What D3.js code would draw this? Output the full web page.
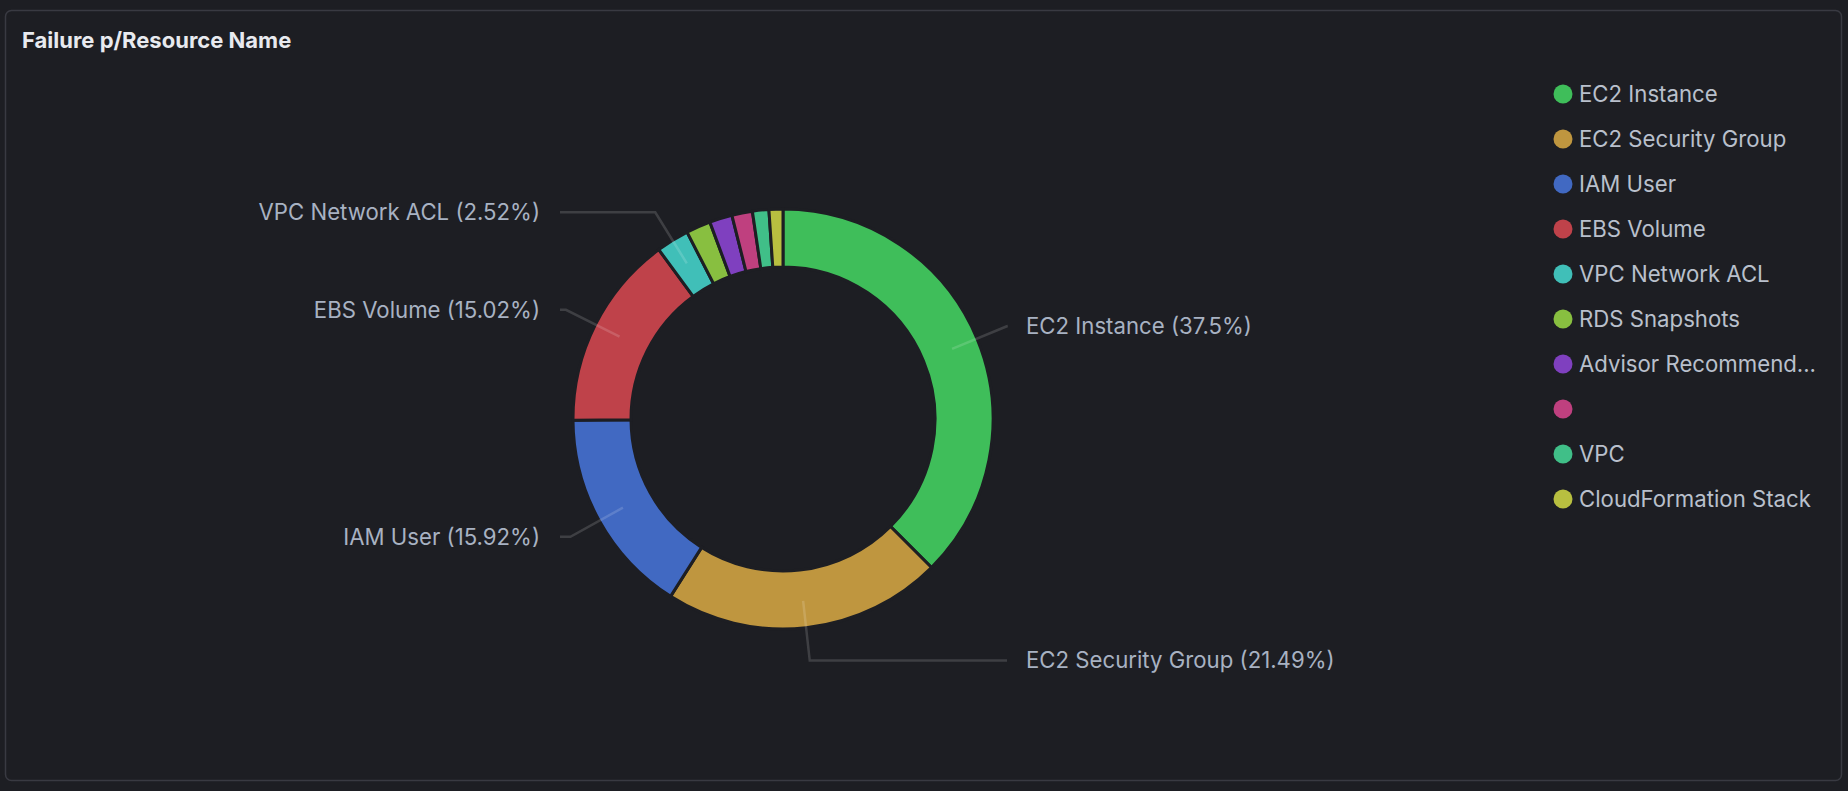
<!DOCTYPE html>
<html lang="en">
<head>
    <meta charset="UTF-8">
    <title>Failure p/Resource Name</title>
    <script src="https://d3js.org/d3.v7.min.js"></script>
    <style>
        html, body { margin: 0; padding: 0; background: #1d1e23; }
        svg { display: block; font-family: Inter, "Noto Sans", sans-serif; }
    </style>
</head>
<body>
    <svg width="1848" height="791"></svg>
    <script>
        // data (percent of failures)
        var names = ["EC2 Instance", "EC2 Security Group", "IAM User", "EBS Volume", "VPC Network ACL",
                     "RDS Snapshots", "Advisor Recommend...", "", "VPC", "CloudFormation Stack"];
        var values = [37.5, 21.49, 15.92, 15.02, 2.52, 1.89, 1.75, 1.58, 1.26, 1.07];
        var colors = ["#3fbe5a", "#bf963f", "#4169c2", "#bf424a", "#40bfb8",
                      "#88bf40", "#7f40bf", "#bf407f", "#40bf88", "#b8bf40"];

        var bg = "#1d1e23";
        var cx = 783, cy = 419;
        var rInner = 152, rOuter = 210;

        var svg = d3.select("svg");

        // panel
        svg.append("rect")
            .attr("x", 5.5).attr("y", 10.5)
            .attr("width", 1836).attr("height", 770)
            .attr("rx", 6)
            .style("fill", bg)
            .style("stroke", "#393a42")
            .style("stroke-width", 1.5);

        svg.append("text")
            .attr("x", 22).attr("y", 48)
            .style("fill", "#e8eaef")
            .style("font-size", "22px")
            .style("font-weight", 700)
            .text("Failure p/Resource Name");

        var data = names.map(function(n, i) { return { name: n, value: values[i], color: colors[i] }; });

        var pie = d3.pie().sort(null).value(function(d) { return d.value; });
        var arcs = pie(data);

        var arc = d3.arc().innerRadius(rInner).outerRadius(rOuter);

        var g = svg.append("g").attr("transform", "translate(" + cx + "," + cy + ")");

        g.selectAll("path.slice")
            .data(arcs)
            .join("path")
            .classed("slice", true)
            .attr("d", arc)
            .style("fill", function(d) { return d.data.color; })
            .style("stroke", bg)
            .style("stroke-width", 3);

        // labels for the bigger slices
        var labelled = arcs.filter(function(d) { return d.data.value >= 2.5; });
        var rStart = 183, rElbow = 243;
        var leftX = 560 - cx, rightX = 1007 - cx;

        function pt(a, r) { return [r * Math.sin(a), -r * Math.cos(a)]; }

        g.selectAll("polyline.link")
            .data(labelled)
            .join("polyline")
            .classed("link", true)
            .attr("points", function(d) {
                var a = (d.startAngle + d.endAngle) / 2;
                var p1 = pt(a, rStart), p2 = pt(a, rElbow);
                var x3 = p2[0] < 0 ? leftX : rightX;
                return [p1, p2, [x3, p2[1]]].map(function(p) { return p.join(","); }).join(" ");
            })
            .style("fill", "none")
            .style("stroke", "rgba(255,255,255,0.15)")
            .style("stroke-width", 2.5);

        g.selectAll("text.label")
            .data(labelled)
            .join("text")
            .classed("label", true)
            .attr("x", function(d) {
                var a = (d.startAngle + d.endAngle) / 2;
                return pt(a, rElbow)[0] < 0 ? leftX - 20 : rightX + 19;
            })
            .attr("y", function(d) {
                var a = (d.startAngle + d.endAngle) / 2;
                return pt(a, rElbow)[1];
            })
            .attr("dy", "0.35em")
            .attr("text-anchor", function(d) {
                var a = (d.startAngle + d.endAngle) / 2;
                return pt(a, rElbow)[0] < 0 ? "end" : "start";
            })
            .style("fill", "#a8b2c2")
            .style("font-size", "22.2px")
            .text(function(d) { return d.data.name + " (" + d.data.value + "%)"; });

        // legend
        var legend = svg.append("g").attr("transform", "translate(1563, 94)");
        var rows = legend.selectAll("g.item")
            .data(data)
            .join("g")
            .classed("item", true)
            .attr("transform", function(d, i) { return "translate(0," + (i * 45) + ")"; });

        rows.append("circle")
            .attr("r", 9.5)
            .style("fill", function(d) { return d.color; });

        rows.append("text")
            .attr("x", 16)
            .attr("dy", "0.35em")
            .style("fill", "#b9c0cc")
            .style("font-size", "22.2px")
            .text(function(d) { return d.name; });
    </script>
</body>
</html>
